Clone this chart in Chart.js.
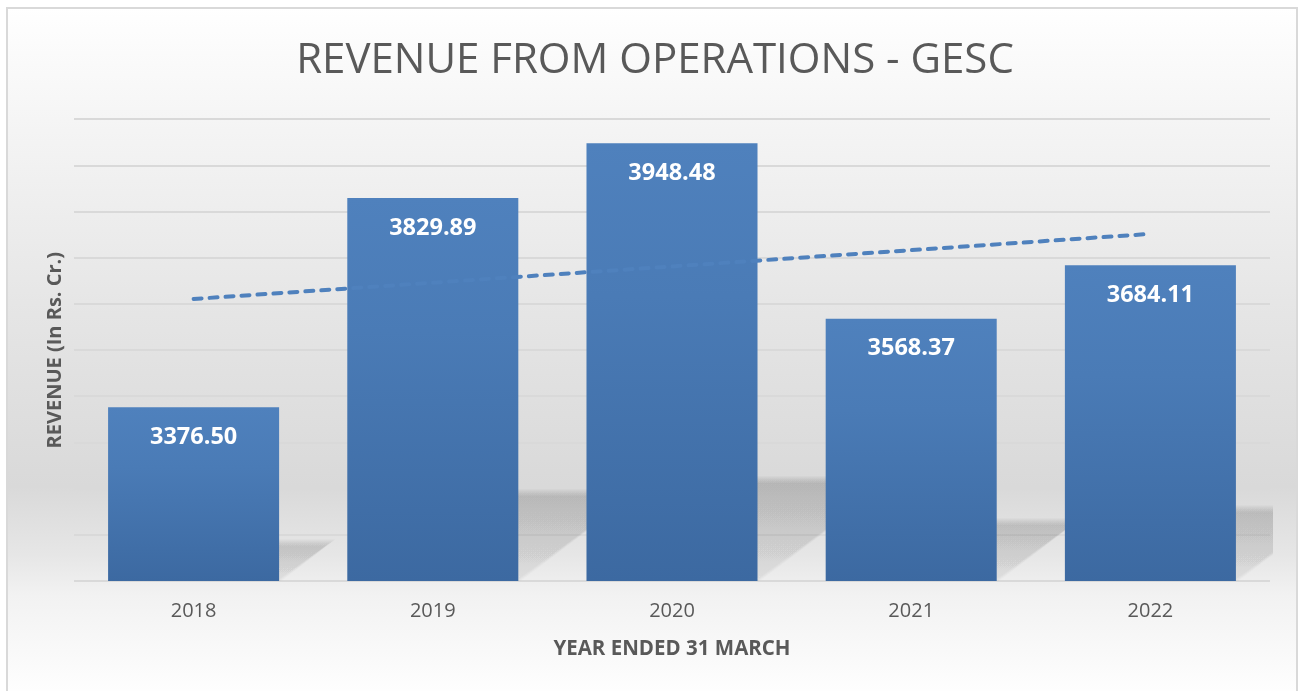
<!DOCTYPE html>
<html>
<head>
<meta charset="utf-8">
<title>Revenue from Operations - GESC</title>
<script src="https://cdn.jsdelivr.net/npm/chart.js@4.4.1/dist/chart.umd.min.js"></script>
<style>
    html, body { margin: 0; padding: 0; background: #ffffff; }
    #wrap { position: absolute; left: 0; top: 0; width: 1300px; height: 691px; }
</style>
</head>
<body>
<div id="wrap"><canvas id="revenueChart" width="1300" height="691"></canvas></div>
<script>
'use strict';

// Chart data
const years = ['2018', '2019', '2020', '2021', '2022'];
const revenue = [3376.50, 3829.89, 3948.48, 3568.37, 3684.11];
// linear trendline, read at the first and last year
const trendline = [3611, null, null, null, 3752];
const yTicks = [3000, 3100, 3200, 3300, 3400, 3500, 3600, 3700, 3800, 3900, 4000];

const TEXT = '#595959';
const FONT = "'Open Sans', 'Noto Sans', sans-serif";

// card background + border
const cardPlugin = {
    id: 'card',
    beforeDraw(chart) {
        const ctx = chart.ctx;
        const g = ctx.createLinearGradient(0, 8, 0, 691);
        g.addColorStop(0, '#ffffff');
        g.addColorStop(0.18, '#f4f4f4');
        g.addColorStop(0.45, '#e5e5e5');
        g.addColorStop(0.70, '#d9d9d9');
        g.addColorStop(0.80, '#e6e6e6');
        g.addColorStop(0.86, '#f2f2f2');
        g.addColorStop(1, '#fefefe');
        ctx.save();
        ctx.fillStyle = '#ffffff';
        ctx.fillRect(0, 0, chart.width, chart.height);
        ctx.fillStyle = g;
        ctx.fillRect(7, 8, 1290, 683);
        ctx.strokeStyle = '#d9d9d9';
        ctx.lineWidth = 2;
        ctx.beginPath();
        ctx.moveTo(7, 691);
        ctx.lineTo(7, 8);
        ctx.lineTo(1297, 8);
        ctx.lineTo(1297, 691);
        ctx.stroke();
        ctx.restore();
    }
};

// perspective shadows behind the bars (soft edge = several stacked layers)
const shadowPlugin = {
    id: 'barShadows',
    beforeDatasetsDraw(chart) {
        const area = chart.chartArea;
        const xScale = chart.scales.x;
        const yScale = chart.scales.y;
        const meta = chart.getDatasetMeta(0);
        const ctx = chart.ctx;
        ctx.save();
        ctx.beginPath();
        ctx.rect(area.left, area.top, area.right - area.left + 3, area.bottom - area.top);
        ctx.clip();
        revenue.forEach((value, i) => {
            const bar = meta.data[i];
            const cx = xScale.getPixelForValue(i);
            const top = yScale.getPixelForValue(value);
            const base = area.bottom;
            const w = (bar && bar.width) ? bar.width : xScale.width / years.length * 0.715;
            const sh = (base - top) * 0.24;
            const dx = sh * 1.35;
            const left = cx - w / 2;
            const right = cx + w / 2;
            const g = ctx.createLinearGradient(0, base - sh, 0, base);
            g.addColorStop(0, 'rgba(0,0,0,0.022)');
            g.addColorStop(1, 'rgba(0,0,0,0.008)');
            ctx.fillStyle = g;
            for (let s = 7; s >= 0; s--) {
                ctx.beginPath();
                ctx.moveTo(left + 4, base + 2);
                ctx.lineTo(right - s * 0.8, base + 2);
                ctx.lineTo(right + dx - s * 1.5, base - sh + s);
                ctx.lineTo(left + dx, base - sh + s);
                ctx.closePath();
                ctx.fill();
            }
        });
        ctx.restore();
    }
};

// white value labels inside the bar tops
const valueLabelPlugin = {
    id: 'valueLabels',
    afterDatasetsDraw(chart) {
        const meta = chart.getDatasetMeta(0);
        const ctx = chart.ctx;
        ctx.save();
        ctx.fillStyle = '#ffffff';
        ctx.font = `bold 23.5px ${FONT}`;
        ctx.textAlign = 'center';
        ctx.textBaseline = 'middle';
        meta.data.forEach((bar, i) => {
            ctx.fillText(revenue[i].toFixed(2), bar.x, bar.y + 30);
        });
        ctx.restore();
    }
};

function barGradient(context) {
    const chart = context.chart;
    const area = chart.chartArea;
    if (!area) return '#4a7cb8';
    const top = chart.scales.y.getPixelForValue(context.raw);
    const g = chart.ctx.createLinearGradient(0, top, 0, area.bottom);
    g.addColorStop(0, '#4f81bd');
    g.addColorStop(0.35, '#4a7bb6');
    g.addColorStop(1, '#3c69a1');
    return g;
}

document.addEventListener('DOMContentLoaded', () => {
    const canvas = document.getElementById('revenueChart');
    new Chart(canvas, {
        type: 'bar',
        data: {
            labels: years,
            datasets: [{
                label: 'Revenue',
                data: revenue,
                backgroundColor: barGradient,
                borderWidth: 0,
                categoryPercentage: 1,
                barPercentage: 0.715,
                order: 1
            }, {
                type: 'line',
                label: 'Linear (Revenue)',
                data: trendline,
                spanGaps: true,
                borderColor: '#4f81bd',
                borderWidth: 4,
                borderDash: [8, 8],
                borderCapStyle: 'round',
                pointRadius: 0,
                fill: false,
                order: 0
            }]
        },
        options: {
            responsive: false,
            devicePixelRatio: 1,
            animation: false,
            layout: { padding: { left: 10, right: 0, top: 0, bottom: 0 } },
            plugins: {
                legend: { display: false },
                tooltip: { enabled: false },
                title: {
                    display: true,
                    text: 'REVENUE FROM OPERATIONS - GESC',
                    color: TEXT,
                    font: { family: FONT, size: 42, weight: 'normal', lineHeight: 1.2 },
                    padding: { top: 36, bottom: 33 }
                }
            },
            scales: {
                x: {
                    grid: { display: false, drawTicks: false },
                    border: { display: false },
                    ticks: {
                        color: TEXT,
                        font: { family: FONT, size: 20 },
                        padding: 18
                    },
                    title: {
                        display: true,
                        text: 'YEAR ENDED 31 MARCH',
                        color: TEXT,
                        font: { family: FONT, size: 20.5, weight: 'bold', lineHeight: 1.2 },
                        padding: 30
                    },
                    afterFit(scale) { scale.height = 110; }
                },
                y: {
                    min: yTicks[0],
                    max: yTicks[yTicks.length - 1],
                    afterBuildTicks(scale) {
                        scale.ticks = yTicks.map(v => ({ value: v }));
                    },
                    ticks: { display: false },
                    grid: { color: '#d9d9d9', lineWidth: 2, drawTicks: false },
                    border: { display: false },
                    title: {
                        display: true,
                        text: 'REVENUE (In Rs. Cr.)',
                        color: TEXT,
                        font: { family: FONT, size: 20, weight: 'bold', lineHeight: 1.2 },
                        padding: 33
                    },
                    afterFit(scale) { scale.width = 64; }
                },
                // empty right-hand margin so the title sits where it does in the original
                yRight: {
                    position: 'right',
                    display: true,
                    ticks: { display: false },
                    grid: { display: false, drawTicks: false },
                    border: { display: false },
                    afterFit(scale) { scale.width = 30; }
                }
            }
        },
        plugins: [cardPlugin, shadowPlugin, valueLabelPlugin]
    });
});
</script>
</body>
</html>
